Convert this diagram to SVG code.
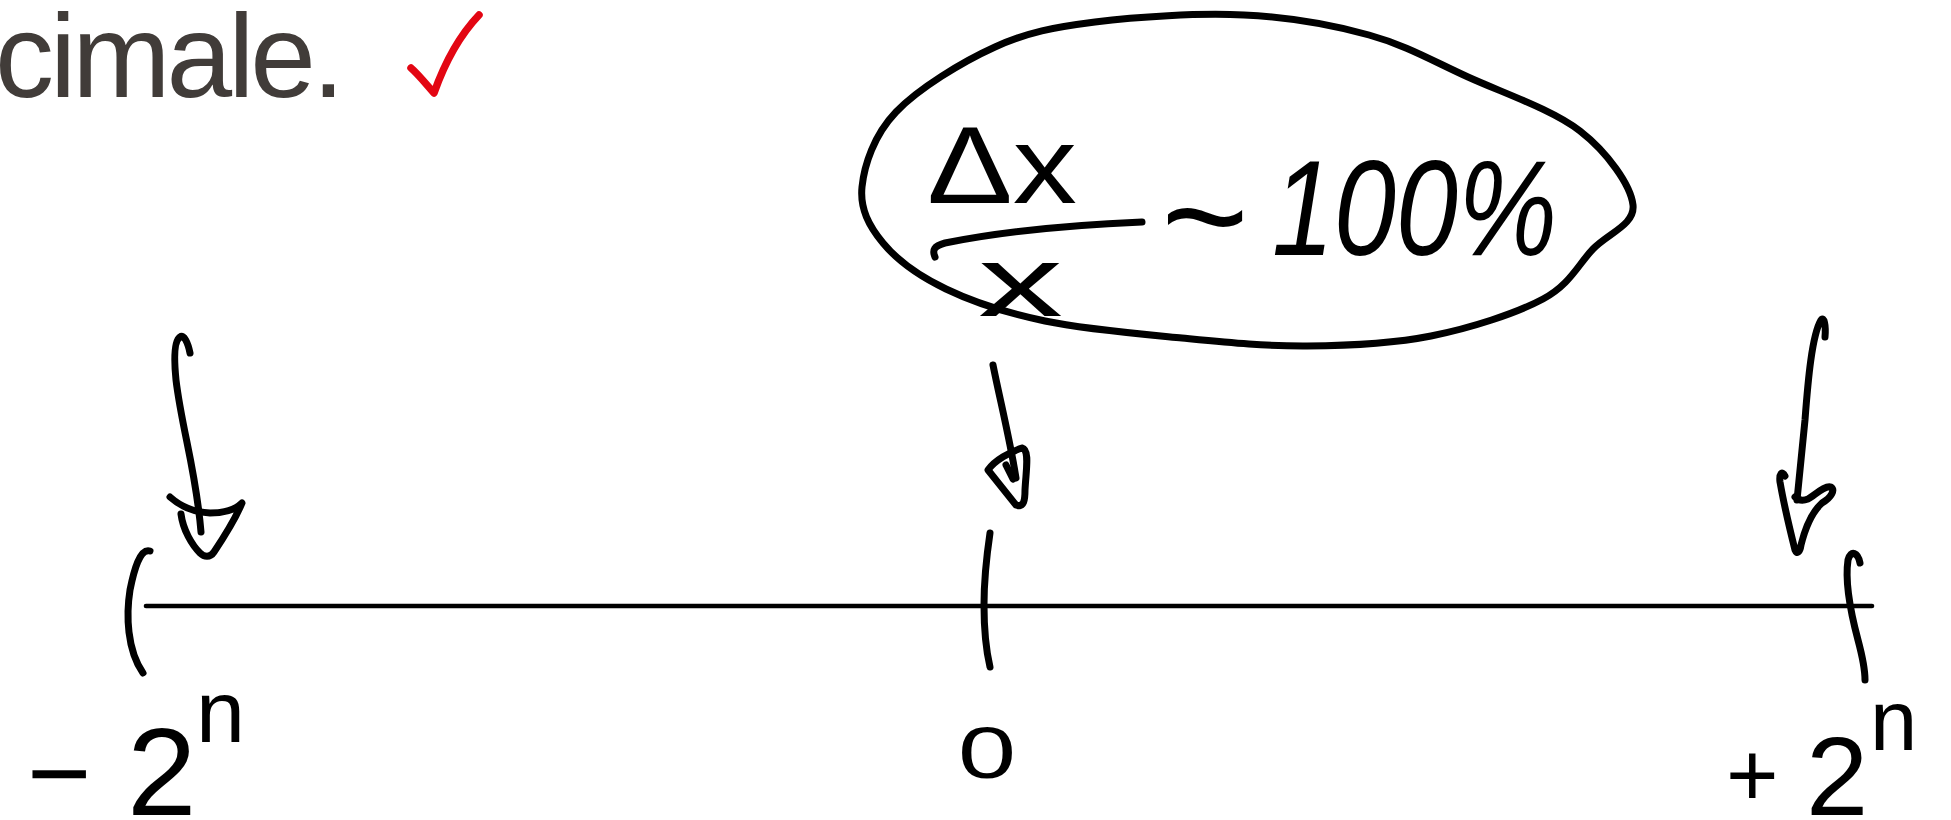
<svg xmlns="http://www.w3.org/2000/svg" width="1951" height="820" viewBox="0 0 1951 820">
<style>
.hand{fill:none;stroke:#000;stroke-width:7;stroke-linecap:round;stroke-linejoin:round}
.axis{fill:none;stroke:#000;stroke-width:4.6;stroke-linecap:round}
.lbl{font-family:"Liberation Sans",Arial,sans-serif;fill:#000}
</style>
<rect width="1951" height="820" fill="#fff"/>
<g id="heading">
<text x="-5" y="97" font-family="Liberation Sans, Arial, sans-serif" font-size="118" letter-spacing="-4" fill="#413c39">cimale.</text>
<path d="M411,68 C418,74 426,84 434,93 C445,62 460,35 479,15" fill="none" stroke="#e30613" stroke-width="7.5" stroke-linecap="round" stroke-linejoin="round"/>
</g>
<g id="note">
<path class="hand" d="M862,187 C864.2,165.2 873.8,135.3 896,112 C918.2,88.7 961.8,62 995,47 C1028.2,32 1053.5,27.3 1095,22 C1136.5,16.7 1198.3,12.8 1244,15 C1289.7,17.2 1331.7,24.7 1369,35 C1406.3,45.3 1432.8,61 1468,77 C1503.2,93 1552.5,109.7 1580,131 C1607.5,152.3 1630.8,185.3 1633,205 C1635.2,224.7 1608,233.3 1593,249 C1578,264.7 1570,284.5 1543,299 C1516,313.5 1470.3,328.2 1431,336 C1391.7,343.8 1348.5,345.7 1307,346 C1265.5,346.3 1225.7,342.2 1182,338 C1138.3,333.8 1084.3,329.2 1045,321 C1005.7,312.8 973,302 946,289 C919,276 897,260 883,243 C869,226 859.8,208.8 862,187 Z"/>
<path class="hand" d="M935,257 C932,250 934,246 945,243 C1000,232 1070,225 1142,222"/>
<text class="lbl" font-size="110"><tspan x="927" y="203" textLength="150" lengthAdjust="spacingAndGlyphs">Δx</tspan><tspan x="978" y="316" font-size="100" textLength="85" lengthAdjust="spacingAndGlyphs">x</tspan></text>
<text class="lbl" x="1205" y="268" font-size="150" text-anchor="middle">~</text>
<text class="lbl" x="1272" y="255" font-size="135" font-style="italic" textLength="285" lengthAdjust="spacingAndGlyphs">100%</text>
</g>
<g id="axis">
<path class="axis" d="M146,606 L1872,606"/>
<path class="hand" d="M150,551 C140,548 134,570 130,590 C126,615 127,650 143,673"/>
<path class="hand" d="M990,533 C986,560 984,585 984,605 C984,630 986,650 990,667"/>
<path class="hand" d="M1860,563 C1858,553 1851,549 1848,560 C1845,580 1850,610 1858,640 C1862,655 1865,670 1865,680"/>
</g>
<g id="connectors">
<path class="hand" d="M190,353 C188,343 184,334 180,337 C174,341 174,360 176,380 C182,430 196,470 201,532"/>
<path class="hand" d="M170,497 C180,506 192,512 210,513 C225,513 236,509 242,503 C235,520 222,540 214,552 C210,558 204,557 200,553 C192,545 183,530 181,514"/>
<path class="hand" d="M993,365 C1000,400 1010,440 1016,478"/>
<path class="hand" d="M1022,448 C1010,452 995,460 988,470 L1016,505 C1024,508 1025,500 1025,490 C1026,470 1030,450 1022,448 Z"/>
<path class="hand" d="M1006,465 L1013,479"/>
<path class="hand" d="M1825,337 C1826,325 1824,316 1821,320 C1812,335 1808,380 1805,420 C1802,450 1799,480 1797,500"/>
<path class="hand" d="M1785,476 C1782,470 1779,474 1780,482 C1784,505 1790,530 1795,550 C1797,555 1800,552 1801,545 C1806,525 1812,512 1822,503 C1832,497 1835,490 1831,487 C1825,485 1815,495 1808,499 C1803,501 1798,500 1795,497"/>
</g>
<g id="label-min">
<text class="lbl"><tspan x="27" y="811" font-size="110">−</tspan><tspan x="127" y="815" font-size="125">2</tspan><tspan x="196" y="742" font-size="88">n</tspan></text>
</g>
<g id="label-zero">
<text class="lbl" x="958" y="778" font-size="72" textLength="58" lengthAdjust="spacingAndGlyphs">0</text>
</g>
<g id="label-max">
<text class="lbl"><tspan x="1726" y="806" font-size="90">+</tspan><tspan x="1806" y="815" font-size="112">2</tspan><tspan x="1870" y="750" font-size="85">n</tspan></text>
</g>
</svg>
